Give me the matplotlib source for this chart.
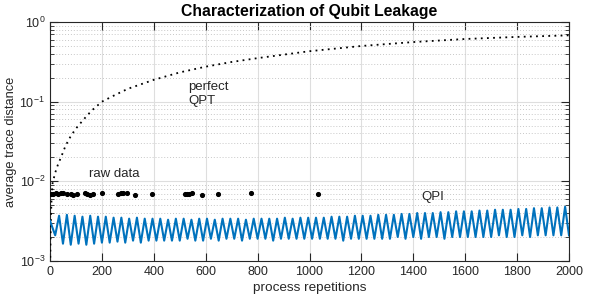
import numpy as np
import matplotlib
matplotlib.use("Agg")
import matplotlib.pyplot as plt
from matplotlib.ticker import LogLocator, NullFormatter, MultipleLocator

plt.rcParams['font.family'] = ['Liberation Sans', 'DejaVu Sans']
plt.rcParams['mathtext.fontset'] = 'custom'
plt.rcParams['mathtext.rm'] = 'Liberation Sans'

# ---- data ----
qpt_x = [1, 3, 6, 10, 20, 30, 45, 60, 80, 100, 130, 160, 200, 250, 300, 400,
         500, 600, 700, 800, 1000, 1200, 1400, 1600, 1800, 2000]
qpt_y = [0.0011, 0.003, 0.0062, 0.0095, 0.0128, 0.016, 0.021, 0.028, 0.037, 0.046,
         0.060, 0.077, 0.100, 0.121, 0.145, 0.188, 0.233, 0.275, 0.315, 0.352,
         0.430, 0.500, 0.560, 0.612, 0.650, 0.680]

raw_x = [3, 13, 23, 32, 41, 51, 64, 80, 90, 103, 135, 144, 154, 167, 199, 263, 272,
         283, 296, 328, 392, 520, 527, 537, 546, 585, 649, 773, 1032]
raw_y = [0.0069, 0.0070, 0.0071, 0.0070, 0.0072, 0.0071, 0.0070, 0.0069, 0.0068,
         0.0070, 0.0071, 0.0070, 0.0068, 0.0069, 0.0072, 0.0070, 0.0071, 0.0071,
         0.0072, 0.0068, 0.0070, 0.0069, 0.0070, 0.0070, 0.0071, 0.0068, 0.0069,
         0.0071, 0.0070]

qpi_start = 0.0032
qpi_peaks = [0.0037, 0.0038, 0.0037, 0.0036, 0.0037, 0.0036, 0.0036,
             0.0035, 0.0035, 0.0034, 0.0035, 0.0034, 0.0034, 0.0034, 0.0033, 0.0034,
             0.0034, 0.0033, 0.0034, 0.0034, 0.0033, 0.0034, 0.0034, 0.0034, 0.0033,
             0.0034, 0.0034, 0.0034, 0.0034, 0.0035, 0.0034, 0.0035, 0.0035,
             0.0035, 0.0035, 0.0036, 0.0036, 0.0036, 0.0037, 0.0037, 0.0037, 0.0038,
             0.0038, 0.0038, 0.0039, 0.0039,
             0.0040, 0.0040, 0.0040, 0.0041, 0.0041, 0.0042, 0.0042, 0.0042, 0.0043,
             0.0043, 0.0044, 0.0044, 0.0044, 0.0045, 0.0045, 0.0046, 0.0046, 0.0047,
             0.0047, 0.0048]
qpi_troughs = [0.0021, 0.00165, 0.0016, 0.00165, 0.0016, 0.00165, 0.0017,
               0.0017, 0.00175, 0.0017, 0.0018, 0.0017, 0.0018, 0.0018, 0.0018, 0.0018,
               0.0018, 0.0019, 0.0018, 0.0018, 0.0019, 0.0018, 0.0019, 0.0019, 0.0018,
               0.0019, 0.0019, 0.0019, 0.0018, 0.0019, 0.0019, 0.0019, 0.0019,
               0.0019, 0.0019, 0.0019, 0.0019, 0.0018, 0.0019, 0.0019, 0.0019, 0.0019,
               0.0019, 0.0019, 0.0020, 0.0019,
               0.0020, 0.0019, 0.0020, 0.0020, 0.0019, 0.0020, 0.0020, 0.0020, 0.0020,
               0.0020, 0.0020, 0.0021, 0.0020, 0.0020, 0.0021, 0.0020, 0.0021, 0.0021,
               0.0021, 0.0021, 0.0021]
qpi_trough_x = np.arange(20, 2001, 30)   # troughs every 30 repetitions
qpi_peak_x = np.arange(35, 2000, 30)     # peaks in between

# assemble QPI extrema in order
qpi_x = [0]
qpi_y = [qpi_start]
for i in range(len(qpi_trough_x)):
    qpi_x.append(qpi_trough_x[i]); qpi_y.append(qpi_troughs[i])
    if i < len(qpi_peak_x):
        qpi_x.append(qpi_peak_x[i]); qpi_y.append(qpi_peaks[i])

fig = plt.figure(figsize=(6, 3), dpi=100)
ax = fig.add_axes([50/600, 1-261/300, 519/600, 239/300])

ax.plot(qpt_x, qpt_y, color='black', lw=1.3, linestyle=(0, (1, 2.4)), zorder=3)
ax.plot(raw_x, raw_y, 'o', color='black', ms=2.7, zorder=4)
ax.plot(qpi_x, qpi_y, color='#0072BD', lw=1.5, zorder=3, solid_joinstyle='round')

ax.set_yscale('log')
ax.set_xlim(0, 2000)
ax.set_ylim(1e-3, 1)
ax.xaxis.set_major_locator(MultipleLocator(200))
ax.yaxis.set_major_locator(LogLocator(base=10, numticks=10))
ax.yaxis.set_minor_locator(LogLocator(base=10, subs=np.arange(2, 10), numticks=20))
ax.yaxis.set_minor_formatter(NullFormatter())

ax.grid(True, which='major', color='#dedede', lw=0.8, linestyle='-')
ax.grid(True, which='minor', axis='y', color='#c8c8c8', lw=0.7, linestyle=(0, (1, 2)))
ax.set_axisbelow(True)

ax.tick_params(which='both', direction='in', top=True, right=True,
               colors='#262626', labelcolor='#262626', labelsize=9)
ax.tick_params(which='major', length=5.5, width=0.8)
ax.tick_params(which='minor', length=3, width=0.6)
for s in ax.spines.values():
    s.set_color('#262626')
    s.set_linewidth(0.8)

ax.set_title('Characterization of Qubit Leakage', fontsize=11.3, fontweight='bold',
             color='black', pad=4)
ax.set_xlabel('process repetitions', fontsize=9.7, color='#262626', labelpad=3)
ax.set_ylabel('average trace distance', fontsize=9.3, color='#262626', labelpad=2)

ax.text(247, 0.0123, 'raw data', fontsize=9.5, ha='center', va='center', color='#262626')
ax.text(532, 0.124, 'perfect\nQPT', fontsize=9.5, ha='left', va='center',
        color='#262626', linespacing=1.2)
ax.text(1476, 0.0063, 'QPI', fontsize=9.5, ha='center', va='center', color='#262626')

fig.savefig('out.png', dpi=100)
